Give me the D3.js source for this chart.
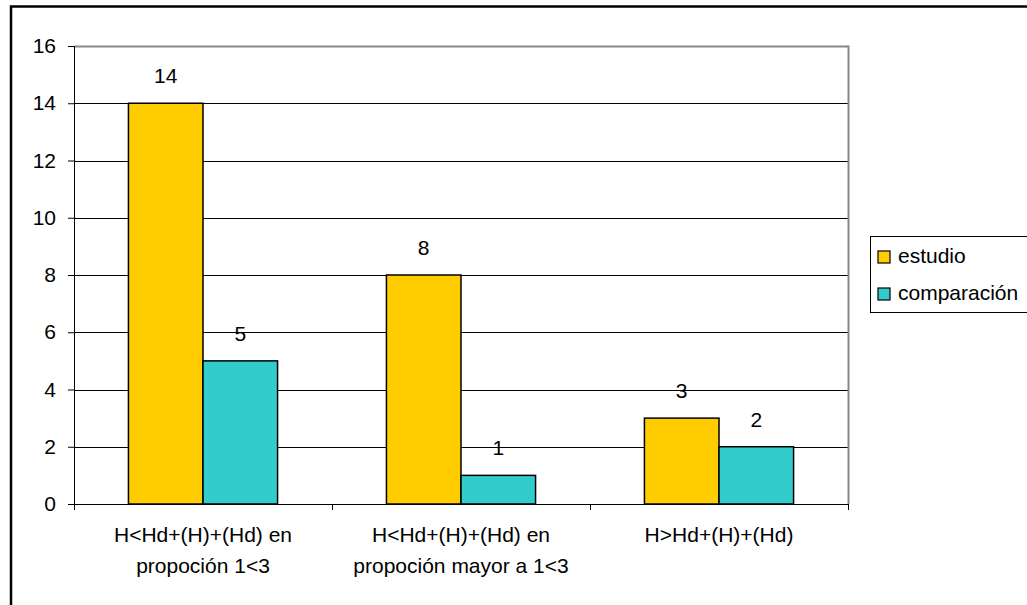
<!DOCTYPE html>
<meta charset="utf-8">
<style>

body {
  margin: 0;
  background: #fff;
}

text {
  font-family: Arial, "Liberation Sans", sans-serif;
  fill: #000;
}

</style>
<body>
<script src="https://cdn.jsdelivr.net/npm/d3@7/dist/d3.min.js"></script>
<script>

var width = 1027,
    height = 605;

var categories = [
  ["H<Hd+(H)+(Hd) en", "propoción 1<3"],
  ["H<Hd+(H)+(Hd) en", "propoción mayor a 1<3"],
  ["H>Hd+(H)+(Hd)"]
];
var series = ["estudio", "comparación"];
var estudio = [14, 8, 3];
var comparacion = [5, 1, 2];
var yTicks = [0, 2, 4, 6, 8, 10, 12, 14, 16];
var colors = ["#ffcc00", "#33cccc"];

var values = [estudio, comparacion];

var plotLeft = 74, plotTop = 46, plotRight = 848, plotBottom = 504;
var fontSize = "21px";

var svg = d3.select("body").append("svg")
    .attr("width", width)
    .attr("height", height);

// outer frame (runs off the right and bottom edges)
svg.append("rect")
    .attr("x", 11).attr("y", 6.5)
    .attr("width", 1040).attr("height", 620)
    .attr("fill", "none")
    .attr("stroke", "#000")
    .attr("stroke-width", 2.5);

var x0 = d3.scaleBand()
    .domain(d3.range(categories.length))
    .range([plotLeft, plotRight]);

var x1 = d3.scaleBand()
    .domain(d3.range(series.length))
    .range([0, x0.bandwidth()])
    .paddingOuter(0.73);

var y = d3.scaleLinear()
    .domain([0, 16])
    .range([plotBottom, plotTop]);

// gridlines
svg.append("g")
  .selectAll("line")
    .data(yTicks.filter(function(d) { return d > 0 && d < 16; }))
  .enter().append("line")
    .attr("x1", plotLeft).attr("x2", plotRight)
    .attr("y1", function(d) { return Math.round(y(d)) + 0.5; })
    .attr("y2", function(d) { return Math.round(y(d)) + 0.5; })
    .attr("stroke", "#000");

// plot border top/right
svg.append("path")
    .attr("d", "M" + plotLeft + "," + (plotTop + 0.5) + "H" + (plotRight + 0.5) + "V" + plotBottom)
    .attr("fill", "none")
    .attr("stroke", "#888")
    .attr("stroke-width", 2);

// bars
var groups = svg.append("g")
  .selectAll("g")
    .data(categories)
  .enter().append("g")
    .attr("transform", function(d, i) { return "translate(" + x0(i) + ",0)"; });

function groupValues(d, i) {
  return values.map(function(v, s) { return {s: s, v: v[i]}; });
}

groups.selectAll("rect")
    .data(groupValues)
  .enter().append("rect")
    .attr("x", function(d) { return x1(d.s); })
    .attr("y", function(d) { return y(d.v); })
    .attr("width", x1.bandwidth())
    .attr("height", function(d) { return y(0) - y(d.v); })
    .attr("fill", function(d) { return colors[d.s]; })
    .attr("stroke", "#000")
    .attr("stroke-width", 1.5);

groups.selectAll("text.val")
    .data(groupValues)
  .enter().append("text")
    .attr("class", "val")
    .attr("x", function(d) { return x1(d.s) + x1.bandwidth() / 2; })
    .attr("y", function(d) { return y(d.v) - 20; })
    .attr("text-anchor", "middle")
    .style("font-size", fontSize)
    .text(function(d) { return d.v; });

// y axis
var yAxis = svg.append("g")
    .attr("transform", "translate(" + plotLeft + ",0)")
    .call(d3.axisLeft(y).tickValues(yTicks).tickSize(6).tickPadding(12));
yAxis.select(".domain").attr("stroke", "#000");
yAxis.selectAll("text").style("font-size", fontSize).attr("fill", "#000");

// x axis
var xAxis = svg.append("g")
    .attr("transform", "translate(0," + plotBottom + ")");
xAxis.append("line")
    .attr("x1", plotLeft).attr("x2", plotRight)
    .attr("y1", 0.5).attr("y2", 0.5)
    .attr("stroke", "#000");
xAxis.selectAll("line.tick")
    .data(d3.range(categories.length + 1))
  .enter().append("line")
    .attr("class", "tick")
    .attr("x1", function(d) { return plotLeft + d * x0.step() + 0.5; })
    .attr("x2", function(d) { return plotLeft + d * x0.step() + 0.5; })
    .attr("y1", 0).attr("y2", 6)
    .attr("stroke", "#000");

var lab = xAxis.selectAll("text")
    .data(categories)
  .enter().append("text")
    .attr("text-anchor", "middle")
    .attr("transform", function(d, i) { return "translate(" + (x0(i) + x0.bandwidth() / 2) + ",38)"; })
    .style("font-size", fontSize);
lab.selectAll("tspan")
    .data(function(d) { return d; })
  .enter().append("tspan")
    .attr("x", 0)
    .attr("y", function(d, i) { return i * 31; })
    .text(function(d) { return d; });

// legend
var legend = svg.append("g")
    .attr("transform", "translate(870,236)");
legend.append("rect")
    .attr("x", 0.5).attr("y", 0.5)
    .attr("width", 160).attr("height", 76)
    .attr("fill", "#fff")
    .attr("stroke", "#000");
var item = legend.selectAll("g")
    .data(series)
  .enter().append("g")
    .attr("transform", function(d, i) { return "translate(8," + (15 + i * 37) + ")"; });
item.append("rect")
    .attr("width", 12).attr("height", 12)
    .attr("fill", function(d, i) { return colors[i]; })
    .attr("stroke", "#000")
    .attr("stroke-width", 1.2);
item.append("text")
    .attr("x", 20)
    .attr("y", 12)
    .style("font-size", fontSize)
    .text(function(d) { return d; });

</script>
